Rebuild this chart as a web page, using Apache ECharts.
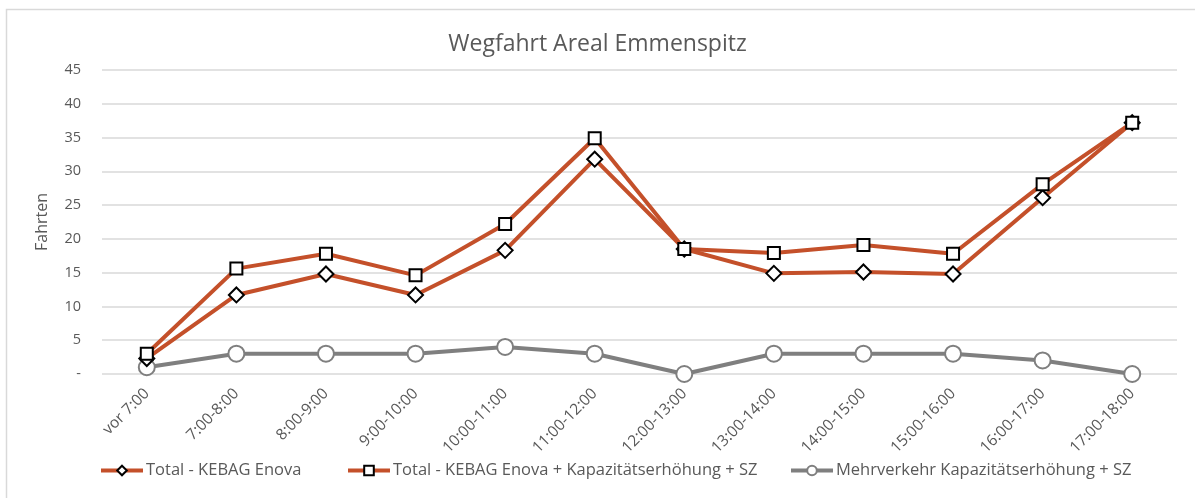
<!DOCTYPE html>
<html>
<head>
<meta charset="utf-8">
<script src="https://cdn.jsdelivr.net/npm/echarts@6/dist/echarts.min.js"></script>
<style>
html,body{margin:0;padding:0;background:#fff;}
#c{width:1195px;height:498px;}
</style>
</head>
<body>
<div id="c"></div>
<script>
const categories = ['vor 7:00','7:00-8:00','8:00-9:00','9:00-10:00','10:00-11:00','11:00-12:00','12:00-13:00','13:00-14:00','14:00-15:00','15:00-16:00','16:00-17:00','17:00-18:00'];
const totalEnova = [2.3, 11.7, 14.8, 11.7, 18.3, 31.8, 18.5, 14.9, 15.1, 14.8, 26.1, 37.2];
const totalKapSZ = [3.0, 15.6, 17.8, 14.6, 22.2, 34.9, 18.5, 17.9, 19.1, 17.8, 28.1, 37.2];
const mehrverkehr = [1, 3, 3, 3, 4, 3, 0, 3, 3, 3, 2, 0];
const seriesNames = ['Total - KEBAG Enova','Total - KEBAG Enova + Kapazitätserhöhung + SZ','Mehrverkehr Kapazitätserhöhung + SZ'];

const FONT = 'Open Sans';
const TXT = '#595959';
const ORANGE = '#C4502A';
const GRAY = '#7F7F7F';

const legendLefts = [99, 346, 789];
const legends = seriesNames.map((n, i) => ({
  data:[n], top:462, left:legendLefts[i], itemWidth:42, itemHeight:12, padding:0,
  lineStyle:{width:4},
  textStyle:{fontFamily:FONT, fontSize:16.5, color:TXT, padding:[0,0,0,-2]}
}));

const chart = echarts.init(document.getElementById('c'), null, {renderer:'canvas'});
chart.setOption({
  animation:false,
  backgroundColor:'#fff',
  graphic:[{type:'rect', shape:{x:6.5,y:9.5,width:1300,height:600}, style:{fill:'none', stroke:'#D9D9D9', lineWidth:1.5}, silent:true}],
  title:{text:'Wegfahrt Areal Emmenspitz', left:'center', top:28, textStyle:{fontFamily:FONT, fontSize:23, fontWeight:'normal', color:TXT}},
  grid:{left:102, right:18, top:70, bottom:124},
  legend: legends,
  xAxis:{
    type:'category', data:categories, boundaryGap:true,
    axisLine:{show:false}, axisTick:{show:false},
    axisLabel:{rotate:45, interval:0, fontFamily:FONT, fontSize:15.5, color:TXT, margin:17}
  },
  yAxis:{
    type:'value', min:0, max:45, interval:5,
    name:'Fahrten', nameLocation:'middle', nameRotate:90, nameGap:52,
    nameTextStyle:{fontFamily:FONT, fontSize:16, color:TXT},
    axisLine:{show:false}, axisTick:{show:false},
    splitLine:{lineStyle:{color:'#D9D9D9', width:1.5}},
    axisLabel:{fontFamily:FONT, fontSize:14.5, color:TXT, margin:21, formatter:v=> v===0 ? '-' : String(v)}
  },
  series:[
    {name:seriesNames[0], type:'line', data:totalEnova, symbol:'diamond', symbolSize:15,
     lineStyle:{color:ORANGE, width:4}, itemStyle:{color:'#fff', borderColor:'#000', borderWidth:2}, z:3},
    {name:seriesNames[1], type:'line', data:totalKapSZ, symbol:'rect', symbolSize:12,
     lineStyle:{color:ORANGE, width:4}, itemStyle:{color:'#fff', borderColor:'#000', borderWidth:2}, z:4},
    {name:seriesNames[2], type:'line', data:mehrverkehr, symbol:'circle', symbolSize:16,
     lineStyle:{color:GRAY, width:4}, itemStyle:{color:'#fff', borderColor:GRAY, borderWidth:2}, z:2}
  ]
});
</script>
</body>
</html>
